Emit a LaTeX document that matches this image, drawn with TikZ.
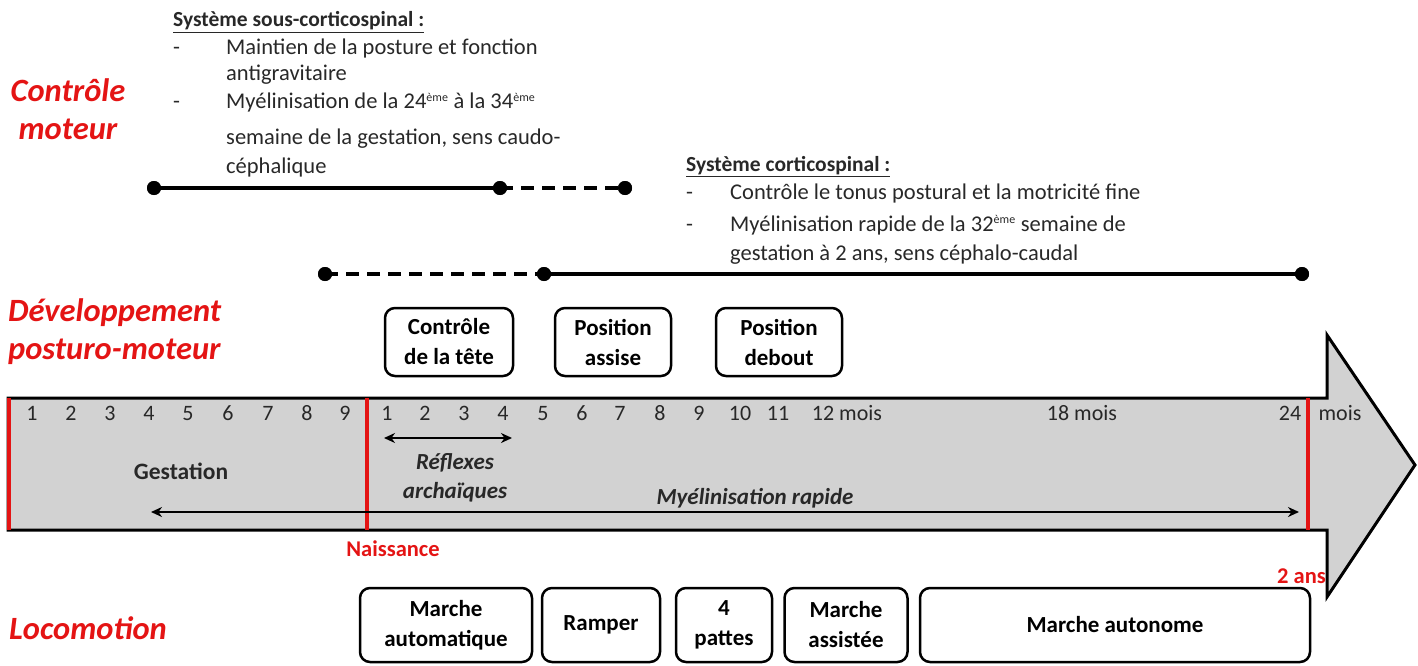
\documentclass[tikz,border=0pt]{standalone}
\usepackage{fontspec}
\setmainfont{Carlito}
\usetikzlibrary{arrows.meta}
\definecolor{tred}{RGB}{228,20,20}
\definecolor{txt}{RGB}{40,40,40}
\definecolor{agray}{RGB}{210,210,210}
\tikzset{
  lbl/.style={text=tred,font=\fontsize{32.5}{38}\selectfont\bfseries\itshape,align=left,inner sep=0pt},
  num/.style={text=txt,font=\fontsize{22}{24}\selectfont,inner sep=0pt,anchor=base},
  body/.style={text=txt,font=\fontsize{22.5}{26}\selectfont,inner sep=0pt,anchor=base west},
  rbox/.style={draw=black,line width=2.5pt,rounded corners=10pt,fill=white,font=\fontsize{23}{30}\selectfont\bfseries,align=center,inner sep=0pt},
  dotn/.style={circle,fill=black,inner sep=0pt,minimum size=14pt},
  tline/.style={line width=4pt},
  dline/.style={line width=4pt,dash pattern=on 13pt off 8pt},
  redl/.style={draw=tred,line width=4pt},
  arr/.style={line width=2.2pt,{Stealth[length=11pt,width=10pt]}-{Stealth[length=11pt,width=10pt]}},
}
\newcommand{\eme}{\textsuperscript{\fontsize{12}{12}\selectfont ème}}
\begin{document}
\begin{tikzpicture}[x=1pt,y=-1pt]
\useasboundingbox (0,0) rectangle (1418,666);
% big arrow
\draw[fill=agray,line width=3pt,line join=miter] (8,398) -- (1327,398) -- (1327,335) -- (1415,465) -- (1327,597) -- (1327,530) -- (8,530) -- cycle;
% red lines
\draw[redl] (9,398) -- (9,530);
\draw[redl] (367,398) -- (367,530);
\draw[redl] (1308,398) -- (1308,530);
% numbers
\foreach \n/\x in {1/32,2/71,3/110,4/149,5/188,6/228,7/268,8/307,9/345}
  \node[num] (g\n) at (\x,420) {\n};
\foreach \n/\x in {1/387,2/425,3/464,4/503,5/543,6/582,7/620,8/660,9/699,10/740,11/778}
  \node[num] (m\n) at (\x,420) {\n};
\node[num] (m12) at (847,420) {12 mois};
\node[num] (m18) at (1082,420) {18 mois};
\node[num] (m24) at (1290,420) {24};
\node[num] (mm) at (1340,420) {mois};
% labels inside
\node[font=\fontsize{23.5}{24}\selectfont\bfseries,text=txt,inner sep=0pt] (gest) at (181,471) {Gestation};
\node[font=\fontsize{23}{29}\selectfont\bfseries\itshape,text=txt,align=center,inner sep=0pt] (refl) at (455,478) {Réflexes\\archaïques};
\node[font=\fontsize{23}{24}\selectfont\bfseries\itshape,text=txt,inner sep=0pt] (myel) at (755,498) {Myélinisation rapide};
\coordinate (ra) at (384,438); \coordinate (rb) at (512,438);
\draw[arr] (ra) -- (rb);
\coordinate (ma) at (151,512); \coordinate (mb) at (1299,512);
\draw[arr] (ma) -- (mb);
\node[text=tred,font=\fontsize{22.5}{24}\selectfont\bfseries,inner sep=0pt] (nais) at (393,549) {Naissance};
\node[text=tred,font=\fontsize{22.5}{24}\selectfont\bfseries,inner sep=0pt,anchor=east] (deux) at (1326,576) {2 ans};
% left labels
\node[lbl,align=center] (cm) at (68,109) {Contrôle\\moteur};
\node[lbl,anchor=west] (dpm) at (8,332) {Développement\\posturo-moteur};
\node[lbl,anchor=west] (loco) at (9,628) {Locomotion};
% sous-corticospinal text
\node[body,font=\fontsize{21.5}{26}\selectfont\bfseries] (t1) at (173,27) {\underline{Système sous-corticospinal :}};
\node[body] (b1) at (173,55) {-};
\node[body] (l1) at (226,55) {Maintien de la posture et fonction};
\node[body] (l2) at (226,81) {antigravitaire};
\node[body] (b2) at (173,109) {-};
\node[body] (l3) at (226,109) {Myélinisation de la 24\eme{} à la 34\eme};
\node[body] (l4) at (226,145) {semaine de la gestation, sens caudo-};
\node[body] (l5) at (226,173) {céphalique};
% corticospinal text
\node[body,font=\fontsize{21.5}{26}\selectfont\bfseries] (t2) at (686,171) {\underline{Système corticospinal :}};
\node[body] (b3) at (686,199) {-};
\node[body] (k1) at (730,199) {Contrôle le tonus postural et la motricité fine};
\node[body] (b4) at (686,231) {-};
\node[body] (k2) at (730,231) {Myélinisation rapide de la 32\eme{} semaine de};
\node[body] (k3) at (730,260) {gestation à 2 ans, sens céphalo-caudal};
% timelines
\node[dotn] (d1) at (154,188) {};
\node[dotn] (d2) at (500,188) {};
\node[dotn] (d3) at (625,188) {};
\draw[tline] (d1.center) -- (d2.center);
\draw[dline] (d2.center) -- (d3.center);
\node[dotn] (e1) at (325,274) {};
\node[dotn] (e2) at (544,274) {};
\node[dotn] (e3) at (1302,274) {};
\draw[dline] (e1.center) -- (e2.center);
\draw[tline] (e2.center) -- (e3.center);
\node[dotn] at (154,188) {};
\node[dotn] at (500,188) {};
\node[dotn] at (625,188) {};
\node[dotn] at (325,274) {};
\node[dotn] at (544,274) {};
\node[dotn] at (1302,274) {};
% posture boxes
\node[rbox,minimum width=128pt,minimum height=68pt] (tete) at (449,342) {Contrôle\\de la tête};
\node[rbox,minimum width=116pt,minimum height=68pt] (assise) at (613,342) {Position\\assise};
\node[rbox,minimum width=126pt,minimum height=68pt] (debout) at (779,342) {Position\\debout};
% locomotion boxes
\node[rbox,minimum width=172pt,minimum height=74pt] (auto) at (446,625) {Marche\\automatique};
\node[rbox,minimum width=118pt,minimum height=74pt] (ramp) at (601,625) {Ramper};
\node[rbox,minimum width=96pt,minimum height=74pt] (patt) at (724,625) {4\\pattes};
\node[rbox,minimum width=123pt,minimum height=74pt] (assi) at (846,625) {Marche\\assistée};
\node[rbox,minimum width=390pt,minimum height=74pt] (auton) at (1115,625) {Marche autonome};
\end{tikzpicture}
\end{document}
